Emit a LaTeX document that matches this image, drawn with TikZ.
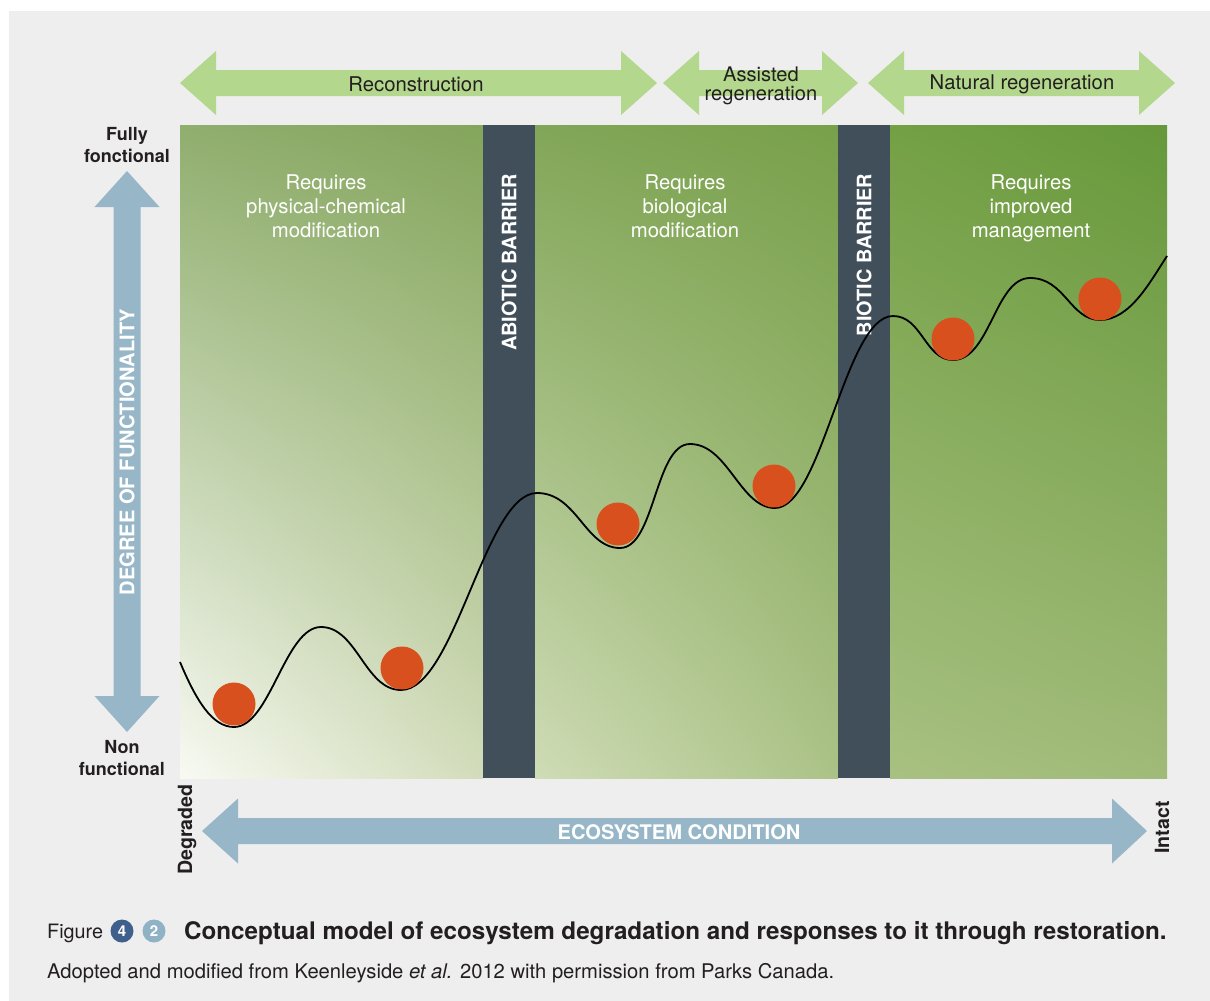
\documentclass[tikz,border=0pt]{standalone}
\usepackage{fontspec}
\setmainfont{TeX Gyre Heros}
\usetikzlibrary{shadings}
\begin{document}
\begin{tikzpicture}[x=1pt,y=-1pt,
  bigarrow/.style={fill=arrowgreen,draw=none},
  bluearrow/.style={fill=arrowblue,draw=none},
  barrierbox/.style={fill=barrier,draw=none},
  ball/.style={circle,fill=ballred,draw=none,minimum size=43pt,inner sep=0pt},
  curveline/.style={draw=black,line width=1.8pt},
  toplabel/.style={text=textdark,font=\fontsize{20.3}{19}\selectfont,align=center,inner sep=0pt},
  paneltext/.style={text=white,font=\fontsize{20.3}{24}\selectfont,align=center,inner sep=0pt},
  barriertext/.style={text=white,font=\bfseries\fontsize{19.9}{20}\selectfont,rotate=90,inner sep=0pt},
  axistext/.style={text=textdark,font=\bfseries\fontsize{18}{22}\selectfont,align=center,inner sep=0pt},
  endtext/.style={text=textdark,font=\bfseries\fontsize{19.6}{22}\selectfont,rotate=90,inner sep=0pt},
  whitebold/.style={text=white,font=\bfseries\fontsize{20.1}{20}\selectfont,inner sep=0pt},
  numdot/.style={circle,minimum size=23pt,inner sep=0pt,text=white,font=\bfseries\fontsize{15}{15}\selectfont}
]
\definecolor{bggray}{HTML}{EEEEEE}
\definecolor{arrowgreen}{HTML}{B3D78C}
\definecolor{arrowblue}{HTML}{97B7C8}
\definecolor{barrier}{HTML}{414F5B}
\definecolor{ballred}{HTML}{D9501F}
\definecolor{textdark}{HTML}{231F20}
\definecolor{numdark}{HTML}{3F5F8C}
\definecolor{numlight}{HTML}{8FB2C5}
\definecolor{pAul}{HTML}{90AE6E}\definecolor{pAur}{HTML}{84A55C}
\definecolor{pAll}{HTML}{F8FAF3}\definecolor{pAlr}{HTML}{D2DCBA}
\definecolor{pBul}{HTML}{82A658}\definecolor{pBur}{HTML}{78A04A}
\definecolor{pBll}{HTML}{CFDCB6}\definecolor{pBlr}{HTML}{ABC287}
\definecolor{pCul}{HTML}{74A045}\definecolor{pCur}{HTML}{66983A}
\definecolor{pCll}{HTML}{A8C182}\definecolor{pClr}{HTML}{A0BA78}

% background
\fill[white] (0,0) rectangle (1210,1001);
\fill[bggray] (9,11) rectangle (1210,1001);
\useasboundingbox (0,0) rectangle (1210,1001);

% panels
\shade[upper left=pAul,upper right=pAur,lower left=pAll,lower right=pAlr] (180,125) rectangle (483,778);
\shade[upper left=pBul,upper right=pBur,lower left=pBll,lower right=pBlr] (535,125) rectangle (838,778);
\shade[upper left=pCul,upper right=pCur,lower left=pCll,lower right=pClr] (890,125) rectangle (1167,778);
\fill[barrierbox] (483,125) rectangle (535,778);
\fill[barrierbox] (838,125) rectangle (890,778);

% barrier labels
\node[barriertext] (abiotic) at (509,262.5) {ABIOTIC BARRIER};
\node[barriertext] (biotic) at (864,255) {BIOTIC BARRIER};

% panel texts
\node[paneltext] (p1) at (326,206) {Requires\\physical-chemical\\modification};
\node[paneltext] (p2) at (685,206) {Requires\\biological\\modification};
\node[paneltext] (p3) at (1031,208.5) {Requires\\improved\\management};

% top arrows
\fill[bigarrow] (180,83) -- (216,51) -- (216,70) -- (621,70) -- (621,51) -- (657,83) -- (621,115) -- (621,96) -- (216,96) -- (216,115) -- cycle;
\fill[bigarrow] (663,83) -- (699,51) -- (699,70) -- (822,70) -- (822,51) -- (858,83) -- (822,115) -- (822,96) -- (699,96) -- (699,115) -- cycle;
\fill[bigarrow] (868,83) -- (904,51) -- (904,70) -- (1139,70) -- (1139,51) -- (1175,83) -- (1139,115) -- (1139,96) -- (904,96) -- (904,115) -- cycle;
\node[toplabel] (recon) at (416,84) {Reconstruction};
\node[toplabel,font=\fontsize{20.1}{19}\selectfont] (assist) at (761,85.5) {Assisted\\regeneration};
\node[toplabel] (natural) at (1022,84) {Natural regeneration};

% vertical axis arrow
\fill[bluearrow] (127,171) -- (159.5,207) -- (140.5,207) -- (140.5,696) -- (159.5,696) -- (127,732) -- (94.5,696) -- (113.5,696) -- (113.5,207) -- (94.5,207) -- cycle;
\node[whitebold,rotate=90] (dof) at (127,452) {DEGREE OF FUNCTIONALITY};
\node[axistext] (fully) at (127,145) {Fully\\fonctional};
\node[axistext] (nonf) at (122,758) {Non\\functional};

% horizontal axis arrow
\fill[bluearrow] (202,831) -- (238,798.5) -- (238,818) -- (1112,818) -- (1112,798.5) -- (1147,831) -- (1112,863.5) -- (1112,844) -- (238,844) -- (238,863.5) -- cycle;
\node[whitebold] (eco) at (679,832) {ECOSYSTEM CONDITION};
\node[endtext] (degr) at (187,829.5) {Degraded};
\node[endtext] (intact) at (1162,827.5) {Intact};

% curve
\draw[curveline] (180,662) .. controls (196,700) and (212,727) .. (234,727)
  .. controls (270,727) and (285,627) .. (321,627)
  .. controls (357,627) and (365,690) .. (401,690)
  .. controls (455,690) and (485,493) .. (537,493)
  .. controls (577,493) and (585,548) .. (620,548)
  .. controls (655,548) and (655,444) .. (690,444)
  .. controls (728,444) and (740,508) .. (775,508)
  .. controls (822,508) and (845,316) .. (893,316)
  .. controls (922,316) and (925,360) .. (953,360)
  .. controls (990,360) and (995,278) .. (1030,278)
  .. controls (1065,278) and (1070,320) .. (1100,320)
  .. controls (1130,320) and (1150,282) .. (1167,256);

% balls
\node[ball] (b1) at (234,704) {};
\node[ball] (b2) at (402,668) {};
\node[ball] (b3) at (618,524) {};
\node[ball] (b4) at (774,486) {};
\node[ball] (b5) at (953,339) {};
\node[ball] (b6) at (1100,299) {};

% caption
\node[anchor=base west,inner sep=0pt,text=textdark,font=\fontsize{19.8}{20}\selectfont] (fig) at (47,938) {Figure};
\node[numdot,fill=numdark] (n4) at (122,931) {4};
\node[numdot,fill=numlight] (n2) at (154,931) {2};
\node[anchor=base west,inner sep=0pt,text=textdark,font=\bfseries\fontsize{24.2}{24}\selectfont] (title) at (184,939.5) {Conceptual model of ecosystem degradation and responses to it through restoration.};
\node[anchor=base west,inner sep=0pt,text=textdark,font=\fontsize{20.2}{20}\selectfont] (source) at (47,978.5) {Adopted and modified from Keenleyside \textit{et al.} 2012 with permission from Parks Canada.};
\end{tikzpicture}
\end{document}
